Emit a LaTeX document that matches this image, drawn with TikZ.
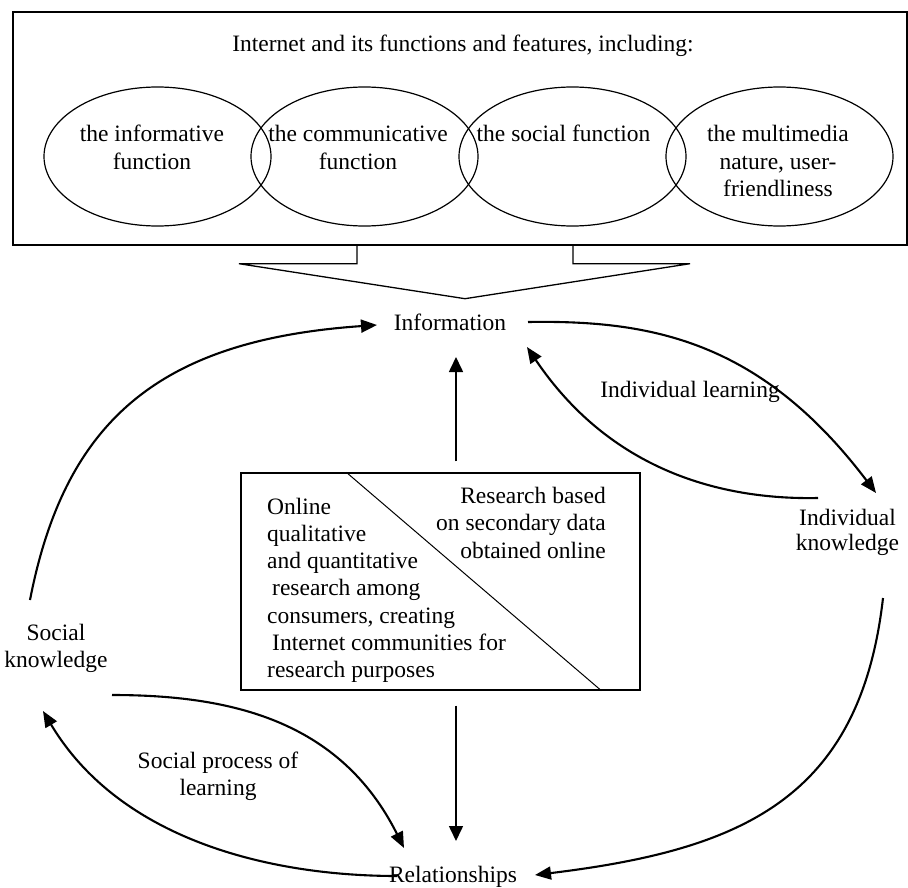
\documentclass[tikz,border=0pt]{standalone}
\usepackage{fontspec}
\setmainfont{Liberation Serif}
\usetikzlibrary{arrows.meta,calc,shapes.geometric}
\newcommand\mltext[2]{\begin{tabular}[t]{@{}#1@{}}#2\end{tabular}}
\begin{document}
\begin{tikzpicture}[x=1pt,y=-1pt,
  txt/.style={inner sep=0pt, anchor=base, font=\fontsize{23.5}{27.5}\selectfont},
  frame/.style={draw, line width=1.4pt, inner sep=0pt},
  oval/.style={draw, ellipse, line width=1.2pt, minimum width=227pt, minimum height=139pt, inner sep=0pt},
  curvearrow/.style={line width=2.1pt, -{Triangle[length=16pt,width=13pt]}},
  straightarrow/.style={line width=1.6pt, -{Triangle[length=15pt,width=14pt]}}]
\useasboundingbox (0,0) rectangle (908,888);

% top box with the four functions
\node[frame, minimum width=894pt, minimum height=233pt] (tb) at (460,128.5) {};
\node[txt] (t0) at (463,52) {Internet and its functions and features, including:};
\node[oval] (e1) at (157.5,156.5) {};
\node[oval] (e2) at (364.5,156.5) {};
\node[oval] (e3) at (572.5,156.5) {};
\node[oval] (e4) at (779.5,156.5) {};
\node[txt] (t1) at (152,142) {\mltext{c}{the informative\\function}};
\node[txt] (t2) at (358,142) {\mltext{c}{the communicative\\function}};
\node[txt] (t3) at (563.5,142) {the social function};
\node[txt] (t4) at (778,142) {\mltext{c}{the multimedia\\nature, user-\\friendliness}};

% block arrow under the top box
\draw[line width=1.3pt] ($(tb.south)+(-103,0)$) -- ($(tb.south)+(-103,18)$) -- ($(tb.south)+(-221,18)$)
  -- ($(tb.south)+(5,53)$) -- ($(tb.south)+(230,18)$) -- ($(tb.south)+(113,18)$) -- ($(tb.south)+(113,0)$);

% central box
\node[frame, line width=1.3pt, minimum width=399pt, minimum height=217pt] (box) at (440.5,581.5) {};
\draw[line width=1pt] ($(box.north west)+(106,0)$) -- ($(box.south west)+(361,0)$);
\node[txt, anchor=base west] (bl) at (267,514) {\fontsize{23.5}{27.3}\selectfont\mltext{l}{Online\\qualitative\\and quantitative\\\hspace*{5pt}research among\\consumers, creating\\\hspace*{5pt}Internet communities for\\research purposes}};
\node[txt, anchor=base east] (br) at (606,503) {\mltext{r}{Research based\\on secondary data\\obtained online}};

% labels
\node[txt] (info) at (450,330) {Information};
\node[txt] (il) at (690,397) {Individual learning};
\node[txt] (ik) at (847.5,525) {\fontsize{23.5}{25.8}\selectfont\mltext{c}{Individual\\knowledge}};
\node[txt] (sk) at (56,640) {\mltext{c}{Social\\knowledge}};
\node[txt] (spl) at (218,768) {\mltext{c}{Social process of\\learning}};
\node[txt] (rel) at (453,882) {Relationships};

% connectors
\draw[curvearrow] ($(sk.base)+(-26,-40)$) .. controls +(35,-180) and +(-217,15) .. ($(info.base)+(-73,-5)$);
\draw[curvearrow] ($(info.base)+(78,-8)$) .. controls +(122,-2) and +(-116,-153) .. ($(ik.base)+(28.5,-32)$);
\draw[curvearrow] ($(ik.base)+(-29.5,-27)$) .. controls +(-98,2) and +(83,123) .. ($(info.base)+(77,17)$);
\draw[straightarrow] ($(box.north)+(15.5,-11)$) -- ($(info.base)+(6,27)$);
\draw[straightarrow] ($(box.south)+(15.5,15)$) -- ($(rel.base)+(3,-41)$);
\draw[curvearrow] ($(sk.base)+(56,55)$) .. controls +(118,0) and +(-64,-128) .. ($(rel.base)+(-49,-34)$);
\draw[curvearrow] ($(rel.base)+(-56,-6)$) .. controls +(-127,0) and +(77,129) .. ($(sk.base)+(-13,71)$);
\draw[curvearrow] ($(ik.base)+(35.5,73)$) .. controls +(-23,202) and +(205,-25) .. ($(rel.base)+(82,-7)$);
\end{tikzpicture}
\end{document}
